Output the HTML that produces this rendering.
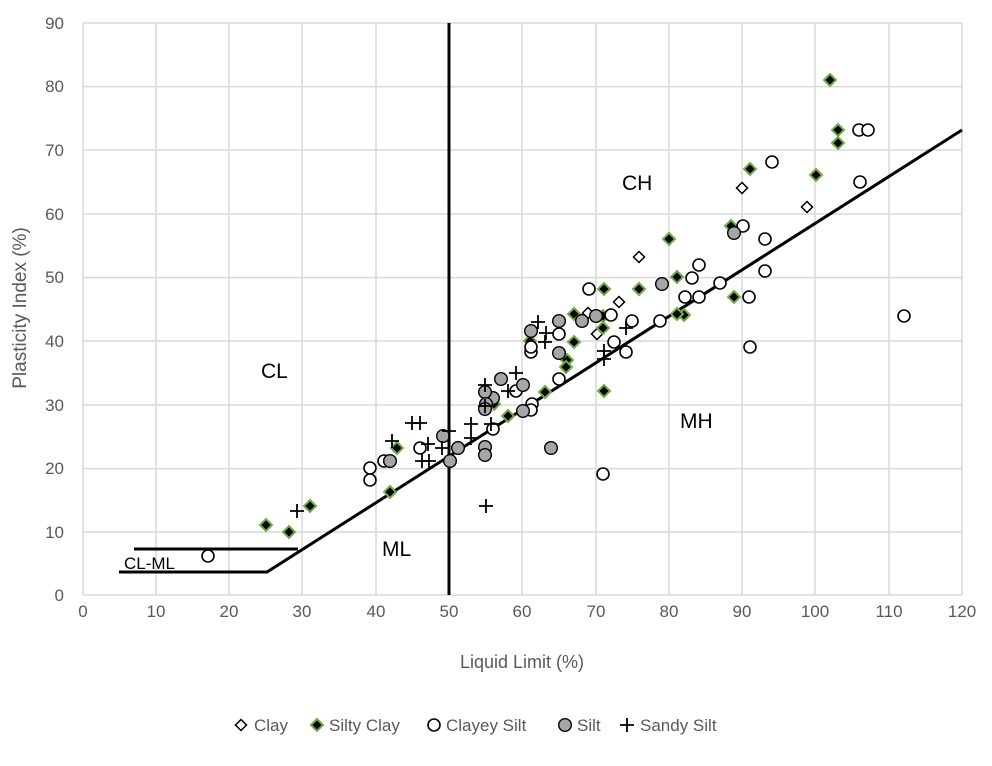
<!DOCTYPE html>
<html><head><meta charset="utf-8"><style>
html,body{margin:0;padding:0;background:#fff;}
svg{display:block;font-family:"Liberation Sans",sans-serif;}
</style></head><body>
<svg width="992" height="766" viewBox="0 0 992 766" xmlns="http://www.w3.org/2000/svg">
<defs>
<path id="dia" d="M0,-5.5 L5.5,0 L0,5.5 L-5.5,0 Z" fill="#fff" stroke="#000" stroke-width="1.5"/>
<path id="sdia" d="M0,-6 L6,0 L0,6 L-6,0 Z" fill="#000" stroke="#70ad47" stroke-width="2"/>
<circle id="oc" r="6" fill="#fff" stroke="#000" stroke-width="1.6"/>
<circle id="gc" r="6.3" fill="#a6a6a6" stroke="#000" stroke-width="1.4"/>
<path id="pl" d="M-7,0 H7 M0,-7 V7" stroke="#000" stroke-width="1.8" fill="none"/>
</defs>
<g stroke="#d9d9d9" stroke-width="1.5">
<line x1="156" y1="23" x2="156" y2="595"/><line x1="229" y1="23" x2="229" y2="595"/><line x1="302" y1="23" x2="302" y2="595"/><line x1="376" y1="23" x2="376" y2="595"/><line x1="449" y1="23" x2="449" y2="595"/><line x1="522" y1="23" x2="522" y2="595"/><line x1="596" y1="23" x2="596" y2="595"/><line x1="669" y1="23" x2="669" y2="595"/><line x1="742" y1="23" x2="742" y2="595"/><line x1="815" y1="23" x2="815" y2="595"/><line x1="889" y1="23" x2="889" y2="595"/><line x1="962" y1="23" x2="962" y2="595"/>
<line x1="83" y1="23" x2="962" y2="23"/><line x1="83" y1="86.6" x2="962" y2="86.6"/><line x1="83" y1="150" x2="962" y2="150"/><line x1="83" y1="214" x2="962" y2="214"/><line x1="83" y1="277.6" x2="962" y2="277.6"/><line x1="83" y1="341" x2="962" y2="341"/><line x1="83" y1="405" x2="962" y2="405"/><line x1="83" y1="468.6" x2="962" y2="468.6"/><line x1="83" y1="532" x2="962" y2="532"/><line x1="83" y1="595" x2="962" y2="595"/>
<line x1="83" y1="23" x2="83" y2="595"/>
</g>
<g fill="#595959" font-size="17" text-anchor="end">
<text x="64" y="29">90</text><text x="64" y="92">80</text><text x="64" y="156">70</text><text x="64" y="220">60</text><text x="64" y="283">50</text><text x="64" y="347">40</text><text x="64" y="411">30</text><text x="64" y="474">20</text><text x="64" y="538">10</text><text x="64" y="601">0</text>
</g>
<g fill="#595959" font-size="17" text-anchor="middle">
<text x="83" y="617">0</text><text x="156" y="617">10</text><text x="229" y="617">20</text><text x="302" y="617">30</text><text x="376" y="617">40</text><text x="449" y="617">50</text><text x="522" y="617">60</text><text x="596" y="617">70</text><text x="669" y="617">80</text><text x="742" y="617">90</text><text x="815" y="617">100</text><text x="889" y="617">110</text><text x="962" y="617">120</text>
<text x="522" y="668" font-size="18">Liquid Limit (%)</text>
<text transform="translate(26,308) rotate(-90)" font-size="19">Plasticity Index (%)</text>
</g>
<g stroke="#000" stroke-width="3" fill="none">
<line x1="449" y1="23" x2="449" y2="595"/>
<polyline points="119,572 267,572 962,130"/>
<line x1="134" y1="549" x2="298" y2="549"/>
</g>
<g font-size="21" fill="#000">
<text x="622" y="190">CH</text><text x="261" y="378">CL</text><text x="680" y="428">MH</text><text x="382" y="556">ML</text>
<text x="124" y="569" font-size="17">CL-ML</text>
</g>
<g>
<use href="#dia" x="742" y="188"/><use href="#dia" x="807" y="207"/><use href="#dia" x="639" y="257"/><use href="#dia" x="619" y="302"/><use href="#dia" x="597" y="334"/><use href="#dia" x="588" y="313"/>
</g>
<g>
<use href="#sdia" x="830" y="80"/><use href="#sdia" x="838" y="130"/><use href="#sdia" x="838" y="143"/><use href="#sdia" x="750" y="169"/><use href="#sdia" x="816" y="175"/><use href="#sdia" x="669" y="239"/><use href="#sdia" x="731" y="226"/><use href="#sdia" x="677" y="277"/><use href="#sdia" x="639" y="289"/><use href="#sdia" x="604" y="289"/><use href="#sdia" x="684" y="315"/><use href="#sdia" x="734" y="297"/><use href="#sdia" x="603" y="316"/><use href="#sdia" x="603" y="328"/><use href="#sdia" x="574" y="342"/><use href="#sdia" x="574" y="314"/><use href="#sdia" x="604" y="391"/><use href="#sdia" x="530" y="341"/><use href="#sdia" x="567" y="360"/><use href="#sdia" x="566" y="367"/><use href="#sdia" x="545" y="392"/><use href="#sdia" x="508" y="416"/><use href="#sdia" x="494" y="404"/><use href="#sdia" x="397" y="448"/><use href="#sdia" x="390" y="492"/><use href="#sdia" x="266" y="525"/><use href="#sdia" x="289" y="532"/><use href="#sdia" x="310" y="506"/><use href="#sdia" x="677" y="314"/>
</g>
<g>
<use href="#oc" x="859" y="130"/><use href="#oc" x="868" y="130"/><use href="#oc" x="772" y="162"/><use href="#oc" x="860" y="182"/><use href="#oc" x="743" y="226"/><use href="#oc" x="765" y="239"/><use href="#oc" x="765" y="271"/><use href="#oc" x="720" y="283"/><use href="#oc" x="699" y="265"/><use href="#oc" x="699" y="297"/><use href="#oc" x="692" y="278"/><use href="#oc" x="685" y="297"/><use href="#oc" x="589" y="289"/><use href="#oc" x="611" y="315"/><use href="#oc" x="632" y="321"/><use href="#oc" x="660" y="321"/><use href="#oc" x="614" y="342"/><use href="#oc" x="626" y="352"/><use href="#oc" x="559" y="334"/><use href="#oc" x="531" y="352"/><use href="#oc" x="531" y="347"/><use href="#oc" x="559" y="379"/><use href="#oc" x="516" y="391"/><use href="#oc" x="532" y="404"/><use href="#oc" x="531" y="410"/><use href="#oc" x="493" y="429"/><use href="#oc" x="420" y="448"/><use href="#oc" x="384" y="461"/><use href="#oc" x="390" y="461"/><use href="#oc" x="370" y="468"/><use href="#oc" x="370" y="480"/><use href="#oc" x="208" y="556"/><use href="#oc" x="904" y="316"/><use href="#oc" x="750" y="347"/><use href="#oc" x="603" y="474"/><use href="#oc" x="749" y="297"/>
</g>
<g>
<use href="#gc" x="734" y="233"/><use href="#gc" x="662" y="284"/><use href="#gc" x="596" y="316"/><use href="#gc" x="582" y="321"/><use href="#gc" x="559" y="321"/><use href="#gc" x="559" y="353"/><use href="#gc" x="501" y="379"/><use href="#gc" x="523" y="385"/><use href="#gc" x="493" y="398"/><use href="#gc" x="485" y="392"/><use href="#gc" x="486" y="404"/><use href="#gc" x="485" y="409"/><use href="#gc" x="523" y="411"/><use href="#gc" x="443" y="436"/><use href="#gc" x="458" y="448"/><use href="#gc" x="485" y="447"/><use href="#gc" x="485" y="455"/><use href="#gc" x="450" y="461"/><use href="#gc" x="390" y="461"/><use href="#gc" x="551" y="448"/><use href="#gc" x="531" y="331"/>
</g>
<g>
<use href="#pl" x="538" y="322"/><use href="#pl" x="546" y="333"/><use href="#pl" x="545" y="342"/><use href="#pl" x="604" y="351"/><use href="#pl" x="604" y="359"/><use href="#pl" x="516" y="373"/><use href="#pl" x="485" y="385"/><use href="#pl" x="508" y="391"/><use href="#pl" x="485" y="406"/><use href="#pl" x="491" y="424"/><use href="#pl" x="420" y="423"/><use href="#pl" x="412" y="423"/><use href="#pl" x="471" y="424"/><use href="#pl" x="471" y="438"/><use href="#pl" x="449" y="431"/><use href="#pl" x="392" y="441"/><use href="#pl" x="428" y="444"/><use href="#pl" x="442" y="448"/><use href="#pl" x="422" y="461"/><use href="#pl" x="429" y="461"/><use href="#pl" x="297" y="511"/><use href="#pl" x="486" y="506"/><use href="#pl" x="626" y="328"/>
</g>
<g font-size="17" fill="#595959">
<use href="#dia" x="241" y="725"/>
<text x="254" y="731">Clay</text>
<use href="#sdia" x="317" y="725"/>
<text x="329" y="731">Silty Clay</text>
<use href="#oc" x="434" y="725"/>
<text x="446" y="731">Clayey Silt</text>
<use href="#gc" x="565" y="725"/>
<text x="577" y="731">Silt</text>
<use href="#pl" x="627" y="725"/>
<text x="640" y="731">Sandy Silt</text>
</g>
</svg>
</body></html>
